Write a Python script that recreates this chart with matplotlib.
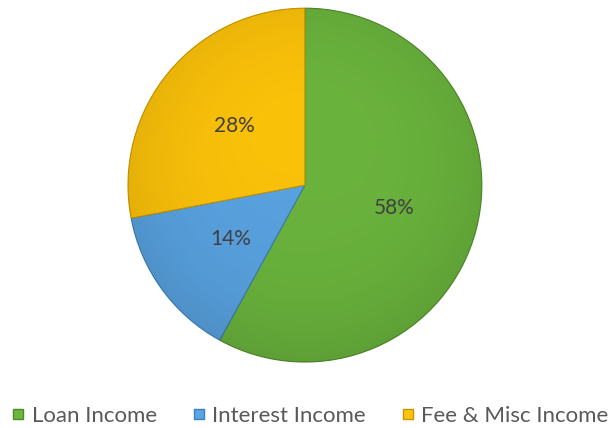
import numpy as np
import matplotlib.pyplot as plt
from matplotlib.lines import Line2D
from matplotlib.patches import Circle

labels = ['Loan Income', 'Interest Income', 'Fee & Misc Income']
shares = [58, 14, 28]
colors = ['#6cb73e', '#5aa5e4', '#ffc50a']
edges = ['#4f8a2a', '#3e7fb8', '#c99600']

plt.rcParams['font.family'] = ['Lato', 'DejaVu Sans']

fig = plt.figure(figsize=(6.08, 4.28), dpi=100)
ax = fig.add_axes([0.2105, 0.154, 0.582, 0.827])

wedges, texts, autotexts = ax.pie(
    shares, colors=colors, startangle=90, counterclock=False,
    autopct='%d%%', pctdistance=0.52, radius=1.0,
    wedgeprops=dict(linewidth=0.8),
    textprops=dict(color='#404040', fontsize=15),
)
for w, ec in zip(wedges, edges):
    w.set_edgecolor(ec)
    w.set_zorder(1)
for t in autotexts:
    t.set_zorder(5)

# soft shading: darker towards the rim and the bottom
yy, xx = np.mgrid[-1:1:400j, -1:1:400j]
rr = np.hypot(xx, yy)
shade = np.zeros((400, 400, 4))
shade[..., 3] = np.clip(0.08 * rr ** 3 + 0.05 * (1 - yy) / 2, 0, 0.2)
img = ax.imshow(shade, extent=(-1, 1, 1, -1), zorder=2, interpolation='bilinear')
img.set_clip_path(Circle((0, 0), 1.0, transform=ax.transData))

ax.set_xlim(-1, 1)
ax.set_ylim(-1, 1)
ax.set_aspect('equal')
ax.axis('off')

handles = [
    Line2D([], [], marker='s', linestyle='none', markersize=7.2,
           markerfacecolor=c, markeredgecolor=e)
    for c, e in zip(colors, edges)
]
fig.legend(handles, labels, loc='center', ncol=3, frameon=False,
           bbox_to_anchor=(0.51, 0.028), fontsize=16, handletextpad=0.3,
           columnspacing=1.6, labelcolor='#595959', handlelength=0.6)

fig.savefig('out.png', dpi=100)
